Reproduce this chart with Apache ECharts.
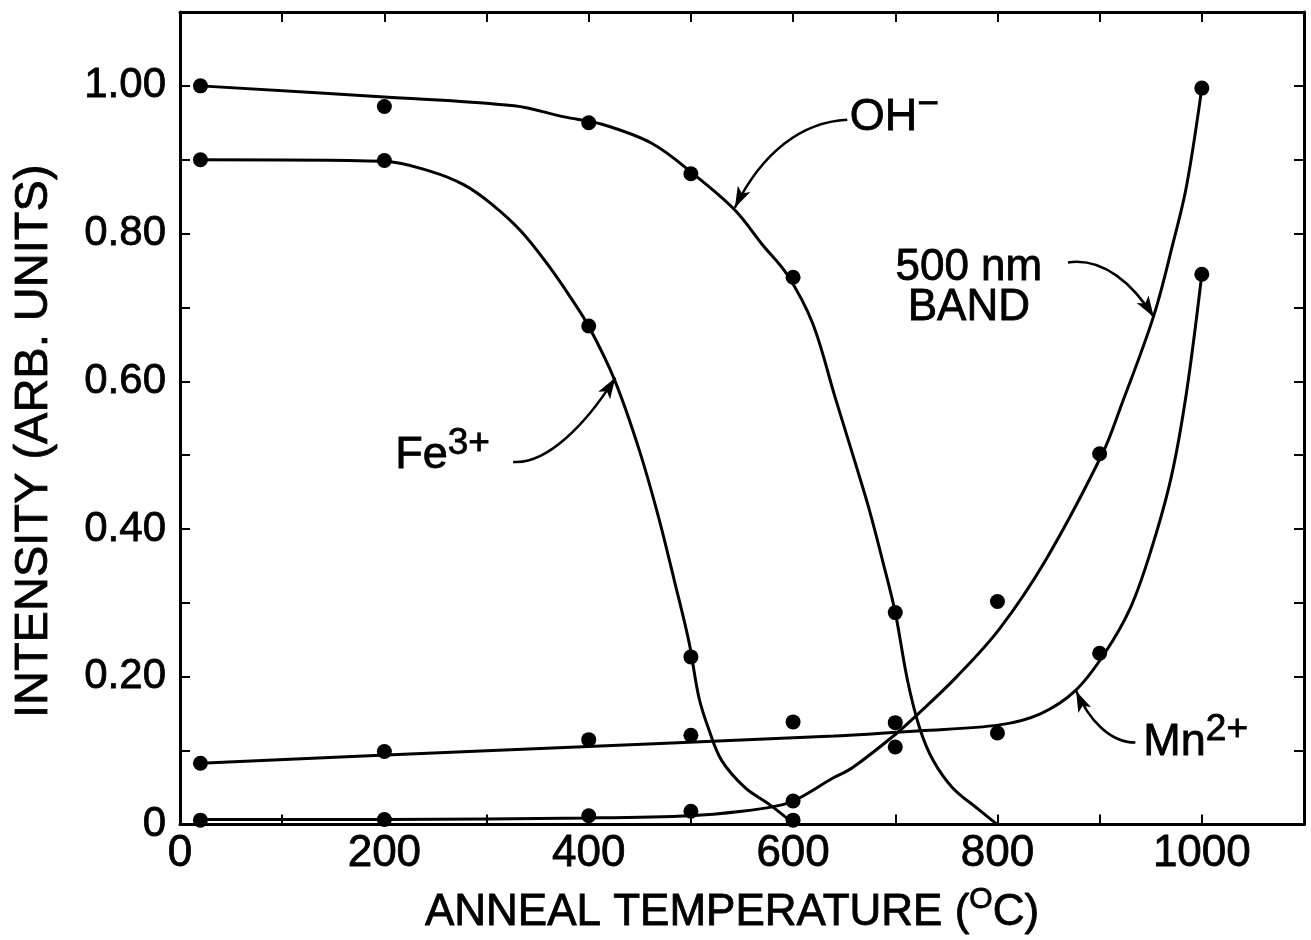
<!DOCTYPE html>
<html><head><meta charset="utf-8">
<script src="https://cdn.jsdelivr.net/npm/echarts@6/dist/echarts.min.js"></script>
<style>html,body{margin:0;padding:0;background:#fff}#c{width:1311px;height:940px}</style>
</head><body><div id="c"></div>
<script>
// ---- measured data points (anneal temperature, intensity) ----
const ohT   = [20, 200, 400, 500, 600, 700];
const ohI   = [1.00, 0.972, 0.950, 0.881, 0.741, 0.287];
const feT   = [20, 200, 400, 500, 600];
const feI   = [0.90, 0.899, 0.675, 0.227, 0.006];
const bandT = [20, 200, 400, 500, 600, 700, 800, 900, 1000];
const bandI = [0.006, 0.007, 0.012, 0.018, 0.032, 0.105, 0.302, 0.502, 0.997];
const mnT   = [20, 200, 400, 500, 600, 700, 800, 900, 1000];
const mnI   = [0.083, 0.099, 0.115, 0.121, 0.139, 0.138, 0.124, 0.232, 0.745];

// ---- hand-drawn fitted curves ----
const ohCurveT   = [20, 200, 327, 376, 413, 462, 504, 543, 570, 594, 619, 641, 661, 674, 688, 700, 712, 724, 737, 756, 783, 800];
const ohCurveI   = [1.00, 0.985, 0.973, 0.958, 0.948, 0.922, 0.879, 0.832, 0.785, 0.745, 0.679, 0.579, 0.489, 0.429, 0.355, 0.287, 0.195, 0.13, 0.087, 0.05, 0.019, 0.0];
const feCurveT   = [20, 200, 246, 278, 305, 334, 360, 383, 401, 425, 449, 468, 484, 498, 508, 518, 530, 553, 577, 599];
const feCurveI   = [0.90, 0.898, 0.884, 0.866, 0.84, 0.803, 0.758, 0.712, 0.672, 0.603, 0.509, 0.418, 0.329, 0.248, 0.171, 0.127, 0.087, 0.05, 0.027, 0.003];
const bandCurveT = [20, 200, 400, 500, 550, 583, 602, 639, 658, 700, 724, 760, 802, 848, 903, 920, 953, 972, 985, 1000];
const bandCurveI = [0.007, 0.007, 0.009, 0.012, 0.018, 0.025, 0.033, 0.063, 0.077, 0.122, 0.152, 0.2, 0.265, 0.36, 0.503, 0.563, 0.689, 0.788, 0.864, 0.997];
const mnCurveT   = [20, 300, 640, 724, 802, 842, 876, 905, 930, 950, 970, 985, 1000];
const mnCurveI   = [0.083, 0.10, 0.12, 0.127, 0.135, 0.150, 0.181, 0.232, 0.293, 0.37, 0.47, 0.585, 0.745];

// ---- axis ----
const xMin = 0, xMax = 1100, xStep = 100, xLabelStep = 200, xLabelMax = 1000;
const yMin = 0, yMax = 1.1, yStep = 0.1;
const xTitle = 'ANNEAL TEMPERATURE (';
const yTitle = 'INTENSITY (ARB. UNITS)';

const FONT = '"Liberation Sans", Arial, Helvetica, sans-serif';
const pairs = (xs, ys) => xs.map((x, i) => [x, ys[i]]);

const chart = echarts.init(document.getElementById('c'), null, {renderer: 'canvas'});
const lineAxis = {onZero: false, lineStyle: {color: '#000', width: 3}};
const tick = {show: true, inside: true, length: 10, lineStyle: {color: '#000', width: 2}};
const heavy = {textBorderColor: '#000', textBorderWidth: 0.8};

const curve = (d) => ({type: 'line', data: d, showSymbol: false, symbol: 'none', smooth: 0.35,
  lineStyle: {color: '#000', width: 3}, z: 2, silent: true});
const dots = (d) => ({type: 'scatter', data: d, symbol: 'circle', symbolSize: 15,
  itemStyle: {color: '#000', opacity: 1}, z: 3});

chart.setOption({
  animation: false,
  backgroundColor: '#fff',
  grid: {left: 180, right: 7, top: 12, bottom: 113},
  xAxis: [{
    type: 'value', min: xMin, max: xMax, interval: xStep, position: 'bottom',
    axisLine: lineAxis, axisTick: tick, splitLine: {show: false},
    axisLabel: Object.assign({fontSize: 44, color: '#000', fontFamily: FONT, margin: 7,
      formatter: v => (v % xLabelStep === 0 && v <= xLabelMax) ? String(v) : ''}, heavy),
    name: '{t|' + xTitle + '}{s|O}{t|C)}', nameLocation: 'middle', nameGap: 60,
    nameTextStyle: {padding: [0, 20, 0, 0], rich: {
      t: Object.assign({fontSize: 44, fontFamily: FONT, color: '#000', lineHeight: 56}, heavy),
      s: Object.assign({fontSize: 30, fontFamily: FONT, color: '#000', lineHeight: 30, verticalAlign: 'top'}, heavy)}}
  }, {
    type: 'value', min: xMin, max: xMax, interval: xStep, position: 'top',
    axisLine: lineAxis, axisTick: tick, splitLine: {show: false}, axisLabel: {show: false}
  }],
  yAxis: [{
    type: 'value', min: yMin, max: yMax, interval: yStep, position: 'left',
    axisLine: lineAxis, axisTick: tick, splitLine: {show: false},
    axisLabel: Object.assign({fontSize: 42, color: '#000', fontFamily: FONT, margin: 14,
      formatter: v => { const k = Math.round(v * 10); if (k === 0) return '0'; return (k % 2 === 0 && k <= 10) ? v.toFixed(2) : ''; }}, heavy),
    name: yTitle, nameLocation: 'middle', nameRotate: 90, nameGap: 122,
    nameTextStyle: Object.assign({fontSize: 47, fontFamily: FONT, color: '#000', padding: [0, 46, 0, 0]}, heavy)
  }, {
    type: 'value', min: yMin, max: yMax, interval: yStep, position: 'right',
    axisLine: lineAxis, axisTick: tick, splitLine: {show: false}, axisLabel: {show: false}
  }],
  series: [
    curve(pairs(ohCurveT, ohCurveI)),
    curve(pairs(feCurveT, feCurveI)),
    curve(pairs(bandCurveT, bandCurveI)),
    curve(pairs(mnCurveT, mnCurveI)),
    dots(pairs(ohT, ohI)),
    dots(pairs(feT, feI)),
    dots(pairs(bandT, bandI)),
    dots(pairs(mnT, mnI))
  ]
});

// ---- annotations (anchored in data coordinates) ----
const P = (t, i) => chart.convertToPixel({gridIndex: 0}, [t, i]);
const labels = [
  {at: [699, 0.957], text: '{b|OH}{s|−}'},
  {at: [772, 0.727], text: '{c|500 nm}\n{c|BAND}'},
  {at: [257, 0.499], text: '{b|Fe}{s|3+}'},
  {at: [994, 0.111], text: '{b|Mn}{s|2+}'}
];
const arrows = [
  [[653, 0.954], [609, 0.951], [570, 0.911], [543, 0.835]],
  [[869, 0.761], [904, 0.768], [933, 0.731], [953, 0.687]],
  [[326, 0.491], [359, 0.487], [398, 0.543], [426, 0.605]],
  [[935, 0.111], [909, 0.111], [889, 0.144], [877, 0.181]]
];
const ink = {fill: '#000', stroke: '#000', lineWidth: 0.8, fontFamily: FONT};
const rich = {
  b: Object.assign({fontSize: 45, lineHeight: 62}, ink),
  s: Object.assign({fontSize: 37, lineHeight: 37, verticalAlign: 'top'}, ink),
  c: Object.assign({fontSize: 44, lineHeight: 40, align: 'center'}, ink)
};
const g = [];
labels.forEach(l => {
  const p = P(l.at[0], l.at[1]);
  g.push({type: 'text', x: p[0], y: p[1], z: 10,
    style: {text: l.text, rich: rich, align: 'center', verticalAlign: 'middle', fill: '#000'}});
});
arrows.forEach(a => {
  const [s, c1, c2, e] = a.map(q => P(q[0], q[1]));
  g.push({type: 'bezierCurve', z: 10,
    shape: {x1: s[0], y1: s[1], cpx1: c1[0], cpy1: c1[1], cpx2: c2[0], cpy2: c2[1], x2: e[0], y2: e[1]},
    style: {stroke: '#000', lineWidth: 2.5, fill: null}});
  let dx = e[0] - c2[0], dy = e[1] - c2[1];
  const L = Math.hypot(dx, dy); dx /= L; dy /= L;
  const len = 21, w = 7;
  const bx = e[0] - dx * len, by = e[1] - dy * len;
  g.push({type: 'polygon', z: 11,
    shape: {points: [[e[0], e[1]], [bx - dy * w, by + dx * w], [bx + dx * 5, by + dy * 5], [bx + dy * w, by - dx * w]]},
    style: {fill: '#000'}});
});
chart.setOption({graphic: g});
</script>
</body></html>
